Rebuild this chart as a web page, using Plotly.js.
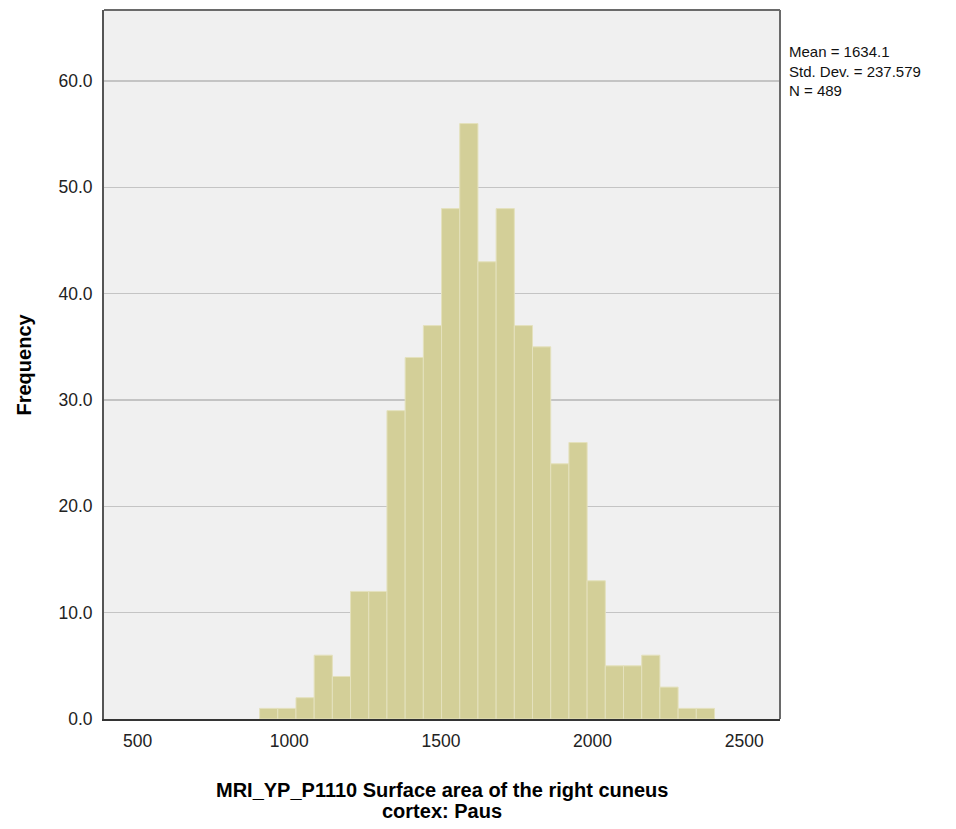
<!DOCTYPE html>
<html>
<head>
<meta charset="utf-8">
<script src="https://cdn.plot.ly/plotly-3.0.1.min.js"></script>
<style>html,body{margin:0;padding:0;background:#fff;}#chart{width:956px;height:829px;}</style>
</head>
<body>
<div id="chart"></div>
<script>
// Histogram bins (lower edges) and frequencies
const binStart = 902;
const binWidth = 60;
const frequencies = [1, 1, 2, 6, 4, 12, 12, 29, 34, 37, 48, 56, 43, 48, 37, 35, 24, 26, 13, 5, 5, 6, 3, 1, 1];
const xTickVals = [500, 1000, 1500, 2000, 2500];
const yTickVals = [0, 10, 20, 30, 40, 50, 60];
const statsLines = ["Mean = 1634.1", "Std. Dev. = 237.579", "N = 489"];
const xTitleLines = ["MRI_YP_P1110 Surface area of the right cuneus", "cortex: Paus"];
const yTitle = "Frequency";

const binCenters = frequencies.map((_, i) => binStart + binWidth * (i + 0.5));
const FONT = 'Liberation Sans, Arial, sans-serif';
const plotH = 709;
const py = px => (719 - px) / plotH;        // pixel row -> paper y
const pxX = px => (px - 104) / 676;          // pixel column -> paper x

const trace = {
  type: 'bar',
  x: binCenters,
  y: frequencies,
  width: binWidth,
  marker: {color: '#d3cf98', line: {color: '#e4e1bd', width: 1}},
  hoverinfo: 'x+y'
};

const annotations = [];
annotations.push({
  xref: 'paper', yref: 'paper', x: pxX(787), y: py(71),
  xanchor: 'left', yanchor: 'middle', align: 'left',
  text: statsLines.join('<br>'), showarrow: false,
  font: {size: 15, color: '#111', family: FONT}
});
const titleCenters = [790, 811];
xTitleLines.forEach((t, i) => annotations.push({
  xref: 'paper', yref: 'paper', x: 0.5, y: py(titleCenters[i]),
  xanchor: 'center', yanchor: 'middle',
  text: '<b>' + t + '</b>', showarrow: false,
  font: {size: 20, color: '#000', family: FONT}
}));
annotations.push({
  xref: 'paper', yref: 'paper', x: pxX(23), y: 0.5,
  xanchor: 'center', yanchor: 'middle', textangle: -90,
  text: '<b>' + yTitle + '</b>', showarrow: false,
  font: {size: 20, color: '#000', family: FONT}
});

const layout = {
  width: 956, height: 829,
  margin: {l: 104, r: 176, t: 10, b: 110},
  paper_bgcolor: '#ffffff',
  plot_bgcolor: '#f0f0f0',
  showlegend: false,
  bargap: 0,
  font: {family: FONT, color: '#222', size: 17},
  xaxis: {
    range: [389, 2618],
    tickvals: xTickVals,
    ticktext: xTickVals.map(String),
    showgrid: false, zeroline: false,
    showline: true, linecolor: '#333', linewidth: 2, mirror: false,
    ticks: '', ticklen: 0, ticklabelstandoff: 5,
    tickfont: {size: 17.5, color: '#222'}
  },
  yaxis: {
    range: [0, 66.68],
    tickvals: yTickVals,
    ticktext: yTickVals.map(v => v.toFixed(1)),
    showgrid: true, gridcolor: '#c4c4c4', gridwidth: 1.5,
    zeroline: false,
    showline: true, linecolor: '#555', linewidth: 2, mirror: false,
    ticks: '', ticklen: 0, ticklabelstandoff: 6,
    tickfont: {size: 17.5, color: '#222'}
  },
  shapes: [
    {type: 'line', xref: 'paper', yref: 'paper', x0: 0, x1: 1, y0: 1, y1: 1, line: {color: '#6a6a6a', width: 2}},
    {type: 'line', xref: 'paper', yref: 'paper', x0: 1, x1: 1, y0: 0, y1: 1, line: {color: '#6a6a6a', width: 2}}
  ],
  annotations: annotations
};

Plotly.newPlot('chart', [trace], layout, {displayModeBar: false, staticPlot: true});
</script>
</body>
</html>
